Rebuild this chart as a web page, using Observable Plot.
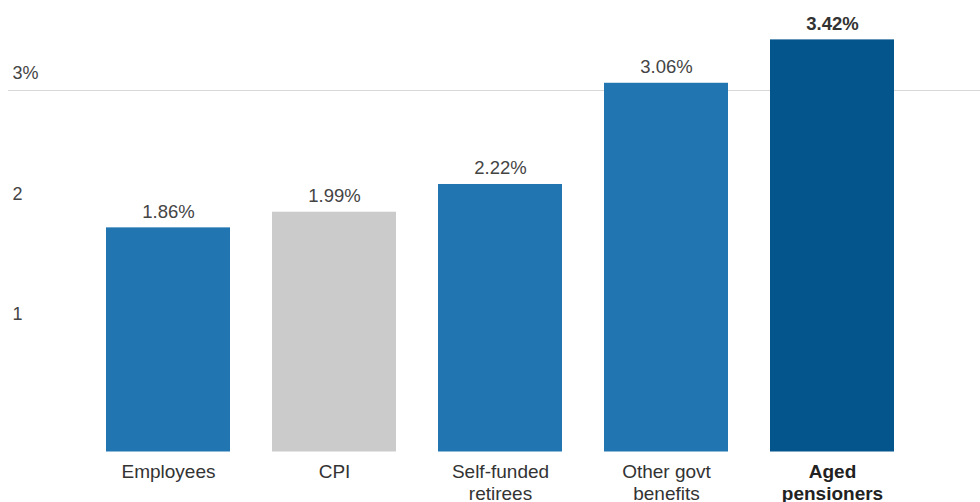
<!DOCTYPE html>
<html>
<head>
<meta charset="utf-8">
<script src="https://cdn.jsdelivr.net/npm/d3@7"></script>
<script src="https://cdn.jsdelivr.net/npm/@observablehq/plot@0.6"></script>
<style>
  html, body { margin: 0; padding: 0; background: #fff; }
  #chart svg { display: block; }
</style>
</head>
<body>
<div id="chart"></div>
<script>
const categories = ["Employees", "CPI", "Self-funded retirees", "Other govt benefits", "Aged pensioners"];
const values = [1.86, 1.99, 2.22, 3.06, 3.42];
const labels = ["Employees", "CPI", "Self-funded\nretirees", "Other govt\nbenefits", "Aged\npensioners"];
const colors = ["#2176b2", "#cbcbcb", "#2176b2", "#2176b2", "#04558b"];
const highlighted = [false, false, false, false, true];
const yTicks = [1, 2, 3];
const yTickLabels = ["1", "2", "3%"];

const data = categories.map((c, i) => ({
  cat: c, value: values[i], label: labels[i], color: colors[i], bold: highlighted[i]
}));

const font = "'Liberation Sans', Arial, sans-serif";

const chart = Plot.plot({
  width: 980,
  height: 502,
  marginLeft: 8,
  marginRight: 0,
  marginTop: 0,
  marginBottom: 0,
  style: { fontFamily: font, background: "#fff" },
  x: { domain: categories, range: [105.3, 895.4], paddingInner: 0.252, paddingOuter: 0, axis: null },
  y: { domain: [0, 3.5], range: [451.5, 451.5 - 3.5 * 120.5], axis: null },
  marks: [
    Plot.ruleY([3], { stroke: "#d8d8d8", strokeWidth: 1.2 }),
    Plot.axisY(yTicks, {
      anchor: "left", tickSize: 0, tickPadding: 0, textAnchor: "start", dx: 4, dy: -17,
      tickFormat: (d) => yTickLabels[yTicks.indexOf(d)], fontSize: 18, fill: "#444", label: null
    }),
    Plot.barY(data, { x: "cat", y: "value", fill: "color" }),
    Plot.text(data.filter(d => !d.bold), {
      x: "cat", y: "value", text: d => d.value.toFixed(2) + "%", dy: -16,
      fontSize: 18.5, fill: "#444"
    }),
    Plot.text(data.filter(d => d.bold), {
      x: "cat", y: "value", text: d => d.value.toFixed(2) + "%", dy: -16,
      fontSize: 18.5, fill: "#333", fontWeight: "bold"
    }),
    Plot.text(data.filter(d => !d.bold), {
      x: "cat", y: () => 0, text: "label", dy: 10.5, lineAnchor: "top", lineHeight: 1.16,
      fontSize: 19, fill: "#333"
    }),
    Plot.text(data.filter(d => d.bold), {
      x: "cat", y: () => 0, text: "label", dy: 10.5, lineAnchor: "top", lineHeight: 1.16,
      fontSize: 19, fill: "#222", fontWeight: "bold"
    })
  ]
});
document.getElementById("chart").appendChild(chart);
</script>
</body>
</html>
